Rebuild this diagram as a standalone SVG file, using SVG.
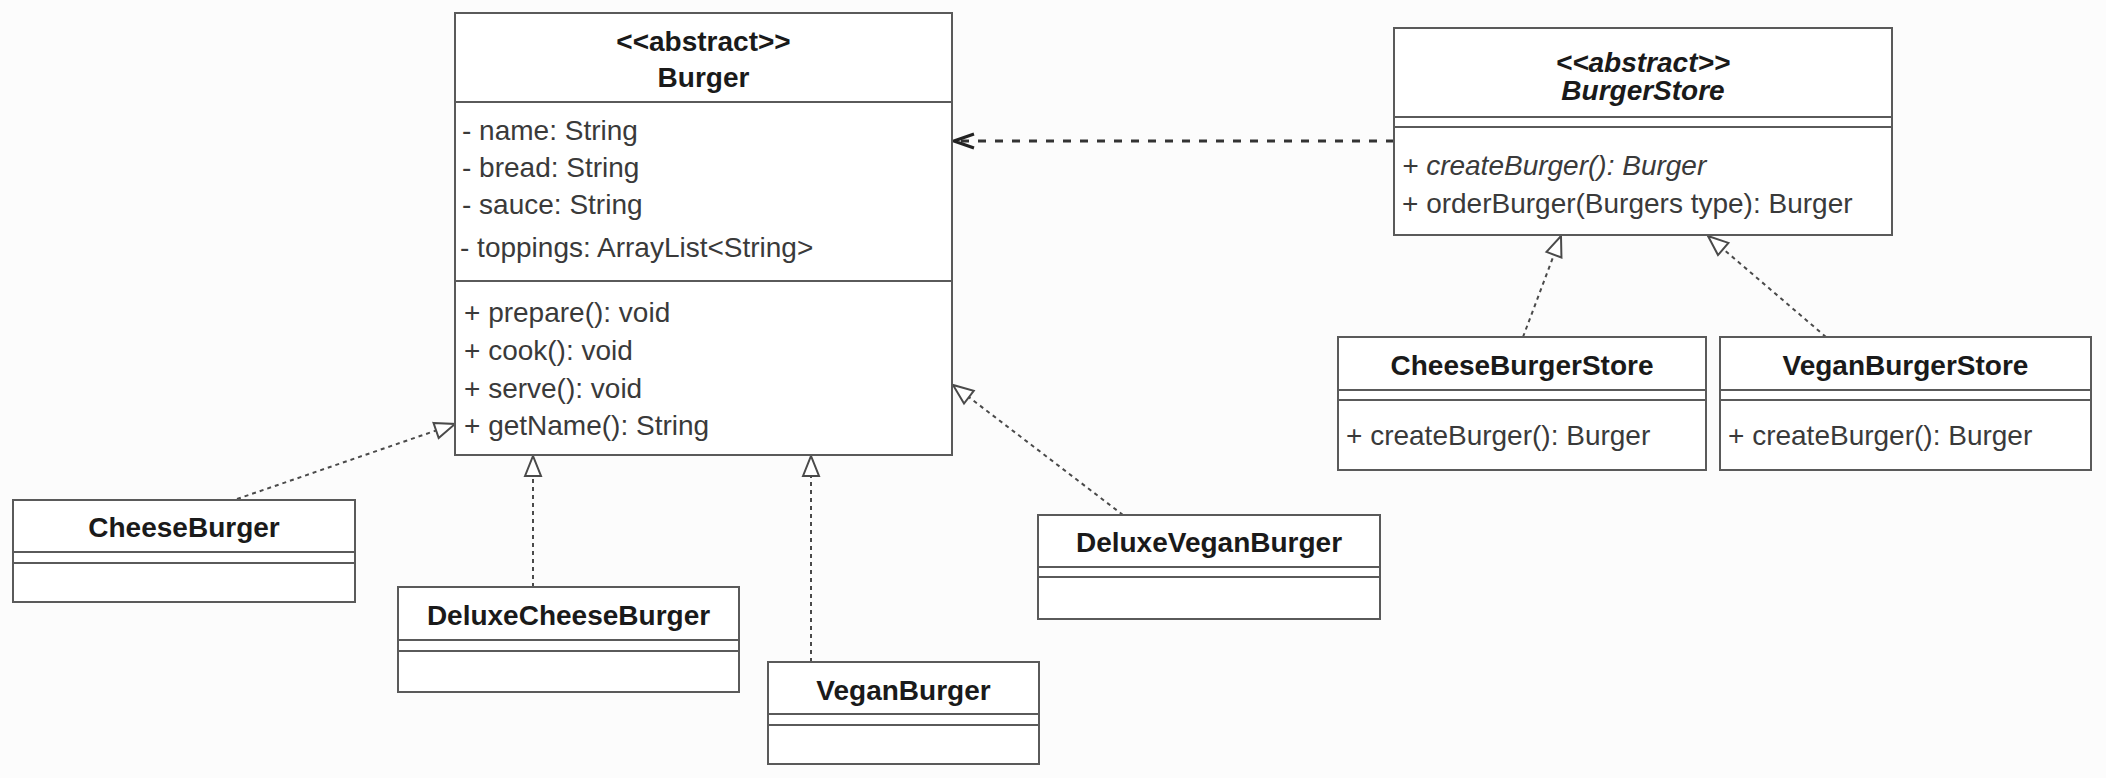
<svg xmlns="http://www.w3.org/2000/svg" width="2106" height="778" viewBox="0 0 2106 778">
<style>
.box{fill:#ffffff;stroke:#5a5a5a;stroke-width:2}
.div{stroke:#5a5a5a;stroke-width:2}
text{font-family:"Liberation Sans",Arial,Helvetica,sans-serif;font-size:28px;fill:#3a3a3a}
.hd{font-weight:bold;fill:#1a1a1a;text-anchor:middle}
.it{font-style:italic}
.real{fill:none;stroke:#4a4a4a;stroke-width:2;stroke-dasharray:4 4}
.dep{fill:none;stroke:#333333;stroke-width:3;stroke-dasharray:8 9}
</style>
<defs>
<marker id="tri" markerUnits="userSpaceOnUse" viewBox="0 0 24 20" refX="22" refY="10" markerWidth="24" markerHeight="20" orient="auto">
<path d="M2,2 L22,10 L2,18 Z" fill="#ffffff" stroke="#4a4a4a" stroke-width="2"/>
</marker>
<marker id="open" markerUnits="userSpaceOnUse" viewBox="0 0 24 20" refX="22" refY="10" markerWidth="24" markerHeight="20" orient="auto">
<path d="M2,3 L22,10 L2,17" fill="none" stroke="#222222" stroke-width="3"/>
</marker>
</defs>
<rect x="0" y="0" width="2106" height="778" fill="#fcfcfc"/>

<g id="connectors">
<line class="dep" x1="1394" y1="141" x2="954" y2="141" marker-end="url(#open)"/>
<line class="real" x1="237" y1="499" x2="455" y2="424" marker-end="url(#tri)"/>
<line class="real" x1="533" y1="587" x2="533" y2="456" marker-end="url(#tri)"/>
<line class="real" x1="811" y1="662" x2="811" y2="456" marker-end="url(#tri)"/>
<line class="real" x1="1123" y1="515" x2="953" y2="385" marker-end="url(#tri)"/>
<line class="real" x1="1523" y1="337" x2="1561" y2="236" marker-end="url(#tri)"/>
<line class="real" x1="1826" y1="337" x2="1708" y2="236" marker-end="url(#tri)"/>
</g>

<g id="Burger">
<rect class="box" x="455" y="13" width="497" height="442"/>
<line class="div" x1="455" y1="102" x2="952" y2="102"/>
<line class="div" x1="455" y1="281" x2="952" y2="281"/>
<text class="hd" x="703.5" y="51">&lt;&lt;abstract&gt;&gt;</text>
<text class="hd" x="703.5" y="87">Burger</text>
<text x="462" y="140">- name: String</text>
<text x="462" y="177">- bread: String</text>
<text x="462" y="214">- sauce: String</text>
<text x="460" y="257">- toppings: ArrayList&lt;String&gt;</text>
<text x="464" y="322">+ prepare(): void</text>
<text x="464" y="360">+ cook(): void</text>
<text x="464" y="398">+ serve(): void</text>
<text x="464" y="435">+ getName(): String</text>
</g>

<g id="BurgerStore">
<rect class="box" x="1394" y="28" width="498" height="207"/>
<line class="div" x1="1394" y1="117" x2="1892" y2="117"/>
<line class="div" x1="1394" y1="127" x2="1892" y2="127"/>
<text class="hd it" x="1643" y="72">&lt;&lt;abstract&gt;&gt;</text>
<text class="hd it" x="1643" y="100">BurgerStore</text>
<text class="it" x="1402" y="175">+ createBurger(): Burger</text>
<text x="1402" y="213">+ orderBurger(Burgers type): Burger</text>
</g>

<g id="CheeseBurgerStore">
<rect class="box" x="1338" y="337" width="368" height="133"/>
<line class="div" x1="1338" y1="390" x2="1706" y2="390"/>
<line class="div" x1="1338" y1="400" x2="1706" y2="400"/>
<text class="hd" x="1522" y="375">CheeseBurgerStore</text>
<text x="1346" y="445">+ createBurger(): Burger</text>
</g>

<g id="VeganBurgerStore">
<rect class="box" x="1720" y="337" width="371" height="133"/>
<line class="div" x1="1720" y1="390" x2="2091" y2="390"/>
<line class="div" x1="1720" y1="400" x2="2091" y2="400"/>
<text class="hd" x="1905.5" y="375">VeganBurgerStore</text>
<text x="1728" y="445">+ createBurger(): Burger</text>
</g>

<g id="CheeseBurger">
<rect class="box" x="13" y="500" width="342" height="102"/>
<line class="div" x1="13" y1="552" x2="355" y2="552"/>
<line class="div" x1="13" y1="563" x2="355" y2="563"/>
<text class="hd" x="184" y="537">CheeseBurger</text>
</g>

<g id="DeluxeCheeseBurger">
<rect class="box" x="398" y="587" width="341" height="105"/>
<line class="div" x1="398" y1="640" x2="739" y2="640"/>
<line class="div" x1="398" y1="651" x2="739" y2="651"/>
<text class="hd" x="568.5" y="625">DeluxeCheeseBurger</text>
</g>

<g id="VeganBurger">
<rect class="box" x="768" y="662" width="271" height="102"/>
<line class="div" x1="768" y1="714" x2="1039" y2="714"/>
<line class="div" x1="768" y1="725" x2="1039" y2="725"/>
<text class="hd" x="903.5" y="700">VeganBurger</text>
</g>

<g id="DeluxeVeganBurger">
<rect class="box" x="1038" y="515" width="342" height="104"/>
<line class="div" x1="1038" y1="567" x2="1380" y2="567"/>
<line class="div" x1="1038" y1="577" x2="1380" y2="577"/>
<text class="hd" x="1209" y="552">DeluxeVeganBurger</text>
</g>
</svg>
